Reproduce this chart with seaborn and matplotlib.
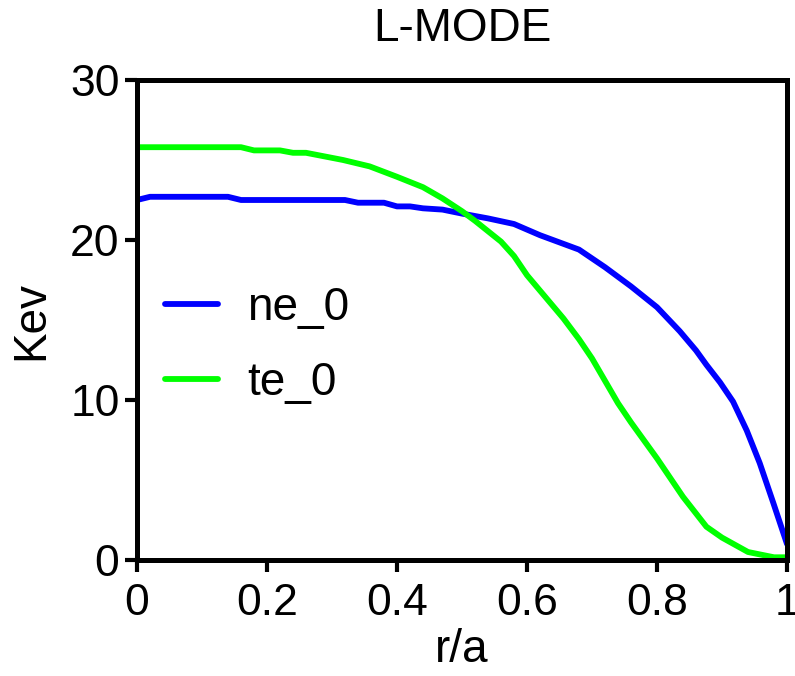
import matplotlib
matplotlib.use("Agg")
import matplotlib.pyplot as plt
import matplotlib.ticker as mticker
import seaborn as sns
import pandas as pd

# profile data
r_ne = [0.0, 0.02, 0.14, 0.16, 0.32, 0.34, 0.38, 0.40, 0.42, 0.44, 0.47, 0.50,
        0.54, 0.58, 0.62, 0.68, 0.72, 0.76, 0.80, 0.835, 0.86, 0.876, 0.897,
        0.917, 0.938, 0.958, 0.979, 1.0]
ne_0 = [22.5, 22.7, 22.7, 22.5, 22.5, 22.33, 22.33, 22.1, 22.1, 21.98, 21.9, 21.65,
        21.35, 21.0, 20.3, 19.4, 18.3, 17.1, 15.8, 14.3, 13.1, 12.2, 11.1,
        9.9, 8.1, 6.06, 3.56, 1.0]

r_te = [0.0, 0.16, 0.18, 0.22, 0.24, 0.26, 0.317, 0.358, 0.40, 0.44, 0.47, 0.50,
        0.52, 0.56, 0.58, 0.60, 0.656, 0.68, 0.70, 0.72, 0.74, 0.76, 0.80,
        0.84, 0.876, 0.90, 0.94, 0.98, 1.0]
te_0 = [25.8, 25.8, 25.6, 25.6, 25.45, 25.45, 25.0, 24.6, 23.95, 23.3, 22.6, 21.8,
        21.2, 19.9, 19.0, 17.8, 15.1, 13.8, 12.6, 11.2, 9.8, 8.6, 6.35,
        3.95, 2.08, 1.4, 0.5, 0.17, 0.17]

sns.set_style("ticks")
plt.rcParams['font.family'] = ['Liberation Sans', 'DejaVu Sans']
plt.rcParams['text.color'] = 'black'

df_ne = pd.DataFrame({"r": r_ne, "v": ne_0})
df_te = pd.DataFrame({"r": r_te, "v": te_0})

fig = plt.figure(figsize=(7.95, 6.76), dpi=100)
ax = fig.add_axes([137/795, 1-560/676, 650/795, 480/676])

sns.lineplot(data=df_ne, x="r", y="v", color="#0000ff", lw=4.2, label="ne_0", ax=ax)
sns.lineplot(data=df_te, x="r", y="v", color="#00ff00", lw=4.2, label="te_0", ax=ax)

ax.set_xlim(0, 1)
ax.set_ylim(0, 30)
ax.set_xticks([0, 0.2, 0.4, 0.6, 0.8, 1.0])
ax.set_yticks([0, 10, 20, 30])
ax.xaxis.set_major_formatter(mticker.FuncFormatter(lambda v, p: f"{v:g}"))
for s in ax.spines.values():
    s.set_linewidth(3.6)
    s.set_color("black")
ax.tick_params(direction="out", length=8.6, width=3.0, labelsize=32, colors="black")
ax.tick_params(axis="x", pad=8)
ax.tick_params(axis="y", pad=4)
ax.set_xlabel("r/a", fontsize=33, labelpad=3, color="black")
ax.set_ylabel("Kev", fontsize=33, labelpad=12, color="black")
ax.set_title("L-MODE", fontsize=33, pad=28, color="black")

leg = ax.legend(loc="center left", bbox_to_anchor=(0.043, 0.447), frameon=False,
                fontsize=33, handlelength=1.15, handletextpad=0.65, labelspacing=0.66,
                borderpad=0, borderaxespad=0)

fig.savefig("out.png", dpi=100)
